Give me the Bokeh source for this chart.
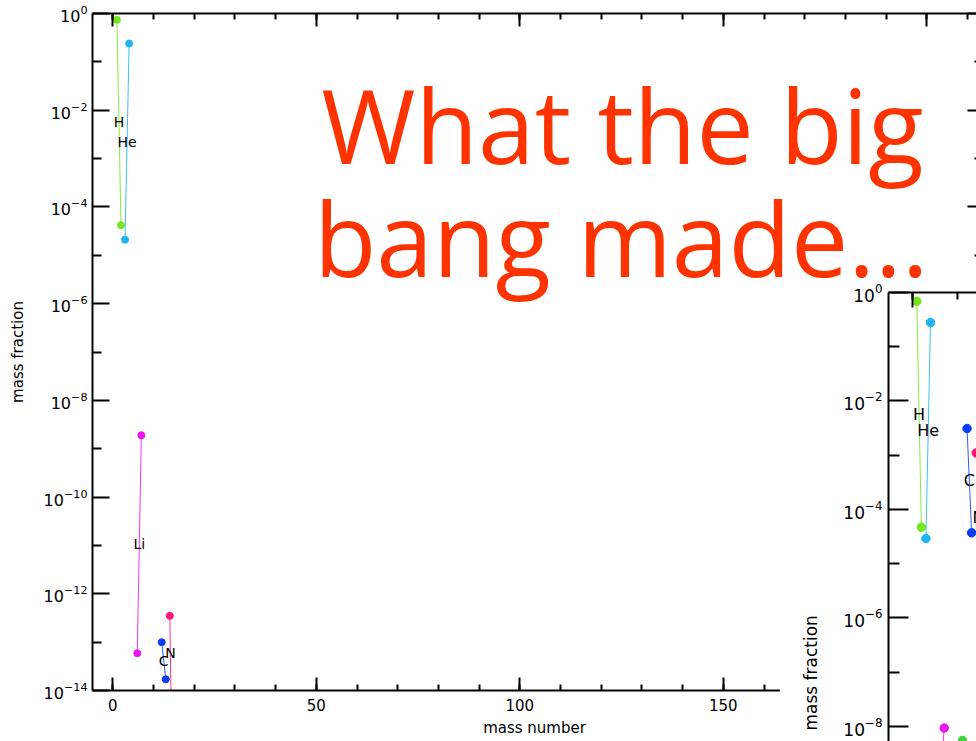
import math
from bokeh.plotting import figure
from bokeh.models import FixedTicker, SingleIntervalTicker, LinearAxis, LogAxis, Label, Title
from bokeh.layouts import column
from bokeh.core.properties import value
from bokeh.embed import file_html
from bokeh.resources import INLINE

# ---------------- data ----------------
title_lines = ["What the big", "bang made..."]

element_symbols = ["H", "He", "Li", "B", "C", "N"]
element_colors = ["#74E61C", "#1EB4F2", "#EE14EE", "#3FD23F", "#0A3CF5", "#FF1478"]

h_mass = [1, 2]
he_mass = [3, 4]
li_mass = [6, 7]
b_mass = [10, 11]
c_mass = [12, 13]
n_mass = [14, 15]

# big-bang mass fractions (main panel)
bigbang_h = [0.74, 4.2e-5]
bigbang_he = [2.1e-5, 0.24]
bigbang_li = [5.9e-14, 1.9e-9]
bigbang_c = [1.0e-13, 1.7e-14]
bigbang_n = [3.5e-13, 6e-19]

# present-day mass fractions (inset panel)
solar_h = [0.69, 4.7e-5]
solar_he = [2.9e-5, 0.28]
solar_li = [7e-10, 9.3e-9]
solar_b = [1.2e-9, 5.5e-9]
solar_c = [3.1e-3, 3.7e-5]
solar_n = [1.1e-3, 4.5e-6]

y_major_exp = [-14, -12, -10, -8, -6, -4, -2, 0]
y_minor_exp = [-13, -11, -9, -7, -5, -3, -1]
x_tick_step = 50
x_label = "mass number"
y_label = "mass fraction"

FONT = "DejaVu Sans"
TITLE_FONT = "Open Sans"
TITLE_COLOR = "#FF3300"

main_sets = [("H", h_mass, bigbang_h), ("He", he_mass, bigbang_he),
             ("Li", li_mass, bigbang_li), ("C", c_mass, bigbang_c),
             ("N", n_mass, bigbang_n)]
inset_sets = [("H", h_mass, solar_h), ("He", he_mass, solar_he),
              ("Li", li_mass, solar_li), ("B", b_mass, solar_b),
              ("C", c_mass, solar_c), ("N", n_mass, solar_n)]
color_of = dict(zip(element_symbols, element_colors))


def label_point(xs, ys, lo=-14.0, hi=0.0):
    """midpoint (x, log-y) of the part of the segment inside the full plot range"""
    x0, x1 = xs
    l0, l1 = math.log10(ys[0]), math.log10(ys[1])

    def clip(xa, la, xb, lb):
        if la < lo:
            t = (lo - la) / (lb - la)
            return xa + t * (xb - xa), lo
        if la > hi:
            t = (hi - la) / (lb - la)
            return xa + t * (xb - xa), hi
        return xa, la

    a = clip(x0, l0, x1, l1)
    b = clip(x1, l1, x0, l0)
    return (a[0] + b[0]) / 2, 10 ** ((a[1] + b[1]) / 2)


major_ticks = [10.0 ** e for e in y_major_exp]
minor_ticks = [10.0 ** e for e in y_minor_exp]


def style_y(ax, lab_size, tmaj, tmin):
    ax.ticker = FixedTicker(ticks=major_ticks, minor_ticks=minor_ticks)
    ax.major_tick_in = tmaj
    ax.major_tick_out = 0
    ax.minor_tick_in = tmin
    ax.minor_tick_out = 0
    ax.axis_line_width = 2
    ax.major_tick_line_width = 2
    ax.minor_tick_line_width = 2
    ax.major_label_text_font = FONT
    ax.major_label_text_font_size = lab_size
    ax.major_label_text_color = "black"
    ax.major_label_standoff = 5


def style_x(ax, lab_size, tmaj, tmin):
    ax.ticker = SingleIntervalTicker(interval=x_tick_step, num_minor_ticks=5)
    ax.major_tick_in = tmaj
    ax.major_tick_out = 0
    ax.minor_tick_in = tmin
    ax.minor_tick_out = 0
    ax.axis_line_width = 2
    ax.major_tick_line_width = 2
    ax.minor_tick_line_width = 2
    ax.major_label_text_font = FONT
    ax.major_label_text_font_size = lab_size
    ax.major_label_text_color = "black"


def hide_labels(ax):
    # tick stubs only: labels are neither drawn nor given room
    ax.major_label_text_font_size = "1px"
    ax.major_label_text_color = None
    ax.major_label_standoff = 0


def draw_sets(p, sets, msize, lsize, y_lo):
    for sym, xs, ys in sets:
        c = color_of[sym]
        p.line(xs, ys, line_color=c, line_width=1, line_alpha=0.85)
        p.scatter(xs, ys, size=msize, fill_color=c, line_color=c)
        lx, ly = label_point(xs, ys)
        if ly < y_lo:      # label falls below the visible part of the panel
            continue
        p.text([lx], [ly], text=[sym], text_font=value(FONT),
               text_font_size=value(lsize), text_color="black",
               text_align="center", text_baseline="middle")


# ---------------- main panel ----------------
p = figure(width=976, height=741, x_range=(-5, 212.2), y_range=(1e-14, 1.0),
           y_axis_type="log", output_backend="svg", toolbar_location=None,
           min_border_left=92, min_border_right=0, min_border_top=13,
           min_border_bottom=51, frame_align=False)
p.outline_line_color = None
p.xgrid.visible = False
p.ygrid.visible = False
p.background_fill_color = "white"
p.border_fill_color = "white"

top = LinearAxis()
right = LogAxis()
p.add_layout(top, "above")
p.add_layout(right, "right")

bottom = p.below[0]
left = p.left[0]
style_x(bottom, "15px", 13, 6)
style_x(top, "15px", 13, 6)
style_y(left, "16px", 17, 9)
style_y(right, "16px", 9, 2)
hide_labels(top)
hide_labels(right)
right.axis_line_alpha = 0  # real right edge lies just outside the window

bottom.major_label_standoff = 8
bottom.axis_label = x_label
left.axis_label = y_label
for ax in (bottom, left):
    ax.axis_label_text_font = FONT
    ax.axis_label_text_font_size = "15px"
    ax.axis_label_text_font_style = "normal"
    ax.axis_label_text_color = "black"
bottom.axis_label_standoff = 5
left.axis_label_standoff = 14

draw_sets(p, main_sets, 7, "14px", 1e-14)

p.add_layout(Label(x=51.2, y=10 ** -2.30, text=title_lines[0], text_font=TITLE_FONT,
                   text_font_size="102px", text_color=TITLE_COLOR,
                   text_baseline="alphabetic"))
p.add_layout(Label(x=49.4, y=10 ** -4.63, text=title_lines[1], text_font=TITLE_FONT,
                   text_font_size="102px", text_color=TITLE_COLOR,
                   text_baseline="alphabetic"))

# ---------------- inset panel ----------------
q_ylo = 10 ** -8.28
q = figure(width=197, height=461, x_range=(-5.2, 14.07), y_range=(q_ylo, 1.0),
           y_axis_type="log", x_axis_location="above", output_backend="svg",
           toolbar_location=None, min_border_left=109, min_border_right=0,
           min_border_top=12, min_border_bottom=0, margin=(-461, 0, 0, 779),
           frame_align=False)
q.outline_line_color = None
q.xgrid.visible = False
q.ygrid.visible = False
q.background_fill_color = "white"
q.border_fill_color = "white"
q_top = q.above[0]
q_left = q.left[0]
style_x(q_top, "16px", 15, 7)
hide_labels(q_top)
style_y(q_left, "17px", 20, 11)
q_left.major_label_standoff = 6

draw_sets(q, inset_sets, 8.5, "16px", q_ylo)

# the inset's full frame runs past the window bottom, so its axis title
# sits low on the visible part
q.add_layout(Title(text=y_label, align="left", offset=11, standoff=39,
                   text_font=FONT, text_font_size="17px", text_font_style="normal",
                   text_color="black"), "left")

layout = column(p, q, spacing=0)

with open("out.html", "w") as f:
    f.write(file_html(layout, INLINE))
